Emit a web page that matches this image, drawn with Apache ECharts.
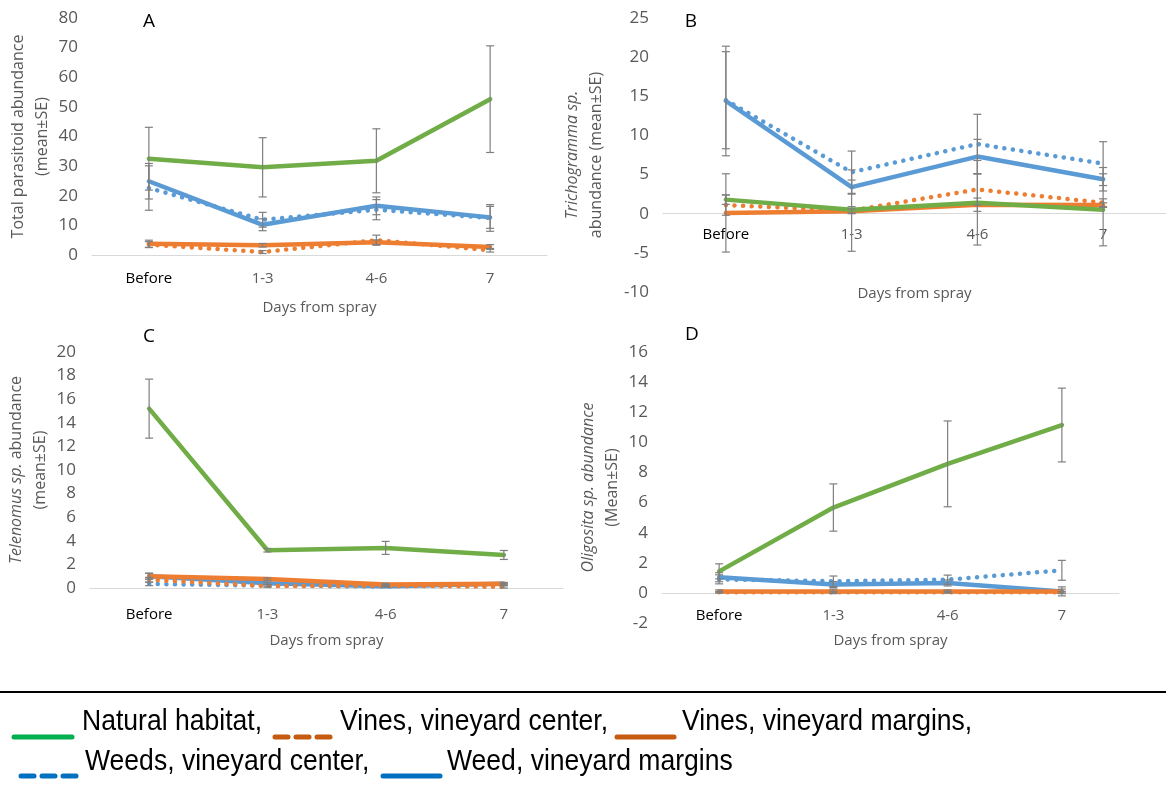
<!DOCTYPE html>
<html>
<head>
<meta charset="utf-8">
<title>Parasitoid abundance</title>
<script src="https://cdn.jsdelivr.net/npm/echarts@6/dist/echarts.min.js"></script>
<style>
  html, body { margin: 0; padding: 0; background: #fff; }
  #main { width: 1166px; height: 791px; }
</style>
</head>
<body>
<div id="main"></div>
<script>
// categories
var days = ['Before', '1-3', '4-6', '7'];

// A: total parasitoids (mean, SE)
var A_natural = [32.5, 29.6, 31.8, 52.6];
var A_natural_se = [10.6, 10, 10.8, 18];
var A_vinesCenter = [3.5, 1.0, 5.0, 1.6];
var A_vinesCenter_se = [1, 0.5, 1.7, 0.6];
var A_vinesMargin = [3.8, 3.3, 4.3, 2.7];
var A_vinesMargin_se = [1.2, 0.6, 0.8, 0.8];
var A_weedsCenter = [22.6, 11.9, 15.3, 12.5];
var A_weedsCenter_se = [7.5, 2.5, 3.4, 4.5];
var A_weedMargin = [24.9, 10.2, 16.6, 12.7];
var A_weedMargin_se = [6, 2, 3, 3.7];

// B: Trichogramma sp.
var B_natural = [1.8, 0.5, 1.4, 0.5];
var B_natural_se = [0.6, 0.4, 5.4, 4.6];
var B_vinesCenter = [1.1, 0.4, 3.1, 1.4];
var B_vinesCenter_se = [1.3, 5.2, 2, 0.5];
var B_vinesMargin = [0.1, 0.3, 1.15, 1.1];
var B_vinesMargin_se = [5, 0.3, 0.85, 0.3];
var B_weedsCenter = [14.5, 5.3, 8.9, 6.4];
var B_weedsCenter_se = [6.2, 2.7, 3.8, 2.8];
var B_weedMargin = [14.4, 3.4, 7.3, 4.4];
var B_weedMargin_se = [7, 0.9, 2.2, 1.5];

// C: Telenomus sp.
var C_natural = [15.2, 3.2, 3.4, 2.8];
var C_natural_se = [2.5, 0.15, 0.55, 0.38];
var C_vinesCenter = [0.7, 0.17, 0.2, 0.1];
var C_vinesCenter_se = [0.2, 0.1, 0.1, 0.1];
var C_vinesMargin = [1.0, 0.76, 0.3, 0.37];
var C_vinesMargin_se = [0.25, 0.1, 0.1, 0.1];
var C_weedsCenter = [0.35, 0.2, 0.12, 0.3];
var C_weedsCenter_se = [0.15, 0.1, 0.05, 0.1];
var C_weedMargin = [1.0, 0.4, 0.15, 0.35];
var C_weedMargin_se = [0.25, 0.1, 0.05, 0.1];

// D: Oligosita sp.
var D_natural = [1.43, 5.67, 8.57, 11.15];
var D_natural_se = [0.5, 1.57, 2.85, 2.45];
var D_vinesCenter = [0.05, 0.05, 0.05, 0.05];
var D_vinesCenter_se = [0.05, 0.05, 0.05, 0.05];
var D_vinesMargin = [0.1, 0.1, 0.1, 0.1];
var D_vinesMargin_se = [0.1, 0.15, 0.1, 0.15];
var D_weedsCenter = [0.9, 0.77, 0.88, 1.5];
var D_weedsCenter_se = [0.3, 0.35, 0.3, 0.66];
var D_weedMargin = [1.04, 0.55, 0.66, 0.1];
var D_weedMargin_se = [0.3, 0.2, 0.2, 0.3];

var green = '#70AD47', orange = '#ED7D31', blue = '#5B9BD5';
var grey = '#595959';
var font = "'Open Sans', sans-serif";

// zeroShift: distance (px) from grid bottom up to the zero line, where the x axis sits
var panels = [
  { grid: { left: 92, right: 619, top: 18, height: 237 }, min: 0, max: 80, step: 10, zeroShift: 0,
    gapY: 30, gapX: 45, lblMargin: 16,
    name: 'Total parasitoid abundance\n(mean±SE)',
    lines: [A_weedsCenter, A_weedMargin, A_vinesCenter, A_vinesMargin, A_natural],
    ses: [A_weedsCenter_se, A_weedMargin_se, A_vinesCenter_se, A_vinesMargin_se, A_natural_se] },
  { grid: { left: 663, right: -5, top: 18, height: 274 }, min: -10, max: 25, step: 5, zeroShift: 274 * 10 / 35,
    gapY: 55, gapX: 73, lblMargin: 14,
    name: '{i|Trichogramma sp.}\nabundance (mean±SE)',
    lines: [B_weedsCenter, B_weedMargin, B_vinesCenter, B_vinesMargin, B_natural],
    ses: [B_weedsCenter_se, B_weedMargin_se, B_vinesCenter_se, B_vinesMargin_se, B_natural_se] },
  { grid: { left: 90, right: 603, top: 352, height: 236 }, min: 0, max: 20, step: 2, zeroShift: 0,
    gapY: 32, gapX: 45, lblMargin: 19,
    name: '{i|Telenomus sp.} abundance\n(mean±SE)',
    lines: [C_weedsCenter, C_weedMargin, C_vinesCenter, C_vinesMargin, C_natural],
    ses: [C_weedsCenter_se, C_weedMargin_se, C_vinesCenter_se, C_vinesMargin_se, C_natural_se] },
  { grid: { left: 662, right: 47, top: 352, height: 271 }, min: -2, max: 16, step: 2, zeroShift: 271 * 2 / 18,
    gapY: 34, gapX: 40, lblMargin: 15,
    name: '{i|Oligosita sp. abundance}\n(Mean±SE)',
    lines: [D_weedsCenter, D_weedMargin, D_vinesCenter, D_vinesMargin, D_natural],
    ses: [D_weedsCenter_se, D_weedMargin_se, D_vinesCenter_se, D_vinesMargin_se, D_natural_se] }
];

// weeds center, weed margins, vines center, vines margins, natural
var lineColors = [blue, blue, orange, orange, green];
var dotted = [true, false, true, false, false];

function renderErr(params, api) {
  var p1 = api.coord([api.value(0), api.value(2)]);
  var p2 = api.coord([api.value(0), api.value(1)]);
  var w = 4;
  var st = { stroke: '#7F7F7F', lineWidth: 1.2 };
  return {
    type: 'group',
    children: [
      { type: 'line', shape: { x1: p1[0], y1: p1[1], x2: p2[0], y2: p2[1] }, style: st },
      { type: 'line', shape: { x1: p1[0] - w, y1: p1[1], x2: p1[0] + w, y2: p1[1] }, style: st },
      { type: 'line', shape: { x1: p2[0] - w, y1: p2[1], x2: p2[0] + w, y2: p2[1] }, style: st }
    ]
  };
}

var grids = [], xAxes = [], yAxes = [], series = [];
panels.forEach(function (p, k) {
  grids.push(p.grid);
  xAxes.push({
    type: 'category', gridIndex: k, data: days, boundaryGap: true,
    position: 'bottom', offset: -p.zeroShift,
    axisLine: { onZero: false, lineStyle: { color: '#D9D9D9', width: 1 } },
    axisTick: { show: false },
    axisLabel: { fontSize: 15, fontFamily: font, margin: p.lblMargin, interval: 0,
      color: function (v) { return v === 'Before' ? '#000' : grey; } },
    name: 'Days from spray', nameLocation: 'middle', nameGap: p.gapX,
    nameTextStyle: { color: grey, fontSize: 15, fontFamily: font }
  });
  yAxes.push({
    type: 'value', gridIndex: k, min: p.min, max: p.max, interval: p.step,
    axisLine: { show: false }, axisTick: { show: false }, splitLine: { show: false },
    axisLabel: { color: grey, fontSize: 17, fontFamily: font, margin: 14 },
    name: p.name, nameLocation: 'middle', nameRotate: 90, nameGap: p.gapY,
    nameTextStyle: { color: grey, fontSize: 16, fontFamily: font, lineHeight: 24,
      rich: { i: { fontStyle: 'italic', color: grey, fontSize: 16, fontFamily: font, lineHeight: 24 } } }
  });
  var errData = [];
  p.lines.forEach(function (vals, j) {
    series.push({
      type: 'line', xAxisIndex: k, yAxisIndex: k, data: vals, symbol: 'none',
      lineStyle: { color: lineColors[j], width: 4.5, cap: 'round', join: 'round',
        type: dotted[j] ? [0.1, 8.5] : 'solid' },
      itemStyle: { color: lineColors[j] }, z: 2 + j
    });
    vals.forEach(function (v, i) {
      errData.push([i, v - p.ses[j][i], v + p.ses[j][i]]);
    });
  });
  series.push({
    type: 'custom', xAxisIndex: k, yAxisIndex: k, data: errData,
    renderItem: renderErr, encode: { x: 0, y: [1, 2] }, z: 10, silent: true
  });
});

// legend box at the bottom, drawn as graphics
var legFont = "'Liberation Sans', sans-serif";
function seg(x1, x2, y, c) {
  return { type: 'line', shape: { x1: x1, y1: y, x2: x2, y2: y },
    style: { stroke: c, lineWidth: 5, lineCap: 'round' } };
}
function dashes(x, y, c) {
  return [seg(x + 3, x + 16, y, c), seg(x + 24, x + 37, y, c), seg(x + 45, x + 58, y, c)];
}
function legText(x, y, t) {
  return { type: 'text', x: x, y: y, scaleX: 0.885,
    style: { text: t, fill: '#000', font: '30px ' + legFont, textVerticalAlign: 'middle' } };
}
function panelLetter(x, y, t) {
  return { type: 'text', x: x, y: y, style: { text: t, fill: '#000', font: '19px ' + font, textAlign: 'center', textVerticalAlign: 'middle' } };
}

var graphics = [
  panelLetter(149, 22, 'A'), panelLetter(691, 22, 'B'),
  panelLetter(149, 337, 'C'), panelLetter(692, 335, 'D'),
  { type: 'line', shape: { x1: 0, y1: 692, x2: 1166, y2: 692 }, style: { stroke: '#000', lineWidth: 2 } },
  seg(14, 72, 737, '#00B050'),
  legText(82, 722, 'Natural habitat,')
].concat(dashes(272, 737, '#C55A11'), [
  legText(340, 722, 'Vines, vineyard center,'),
  seg(617, 674, 737, '#C55A11'),
  legText(682, 722, 'Vines, vineyard margins,')
], dashes(18, 776, '#0070C0'), [
  legText(85, 762, 'Weeds, vineyard center,'),
  seg(383, 440, 776, '#0070C0'),
  legText(447, 762, 'Weed, vineyard margins')
]);

var chart = echarts.init(document.getElementById('main'));
chart.setOption({
  animation: false,
  backgroundColor: '#fff',
  textStyle: { fontFamily: font },
  grid: grids,
  xAxis: xAxes,
  yAxis: yAxes,
  series: series,
  graphic: graphics
});
</script>
</body>
</html>
